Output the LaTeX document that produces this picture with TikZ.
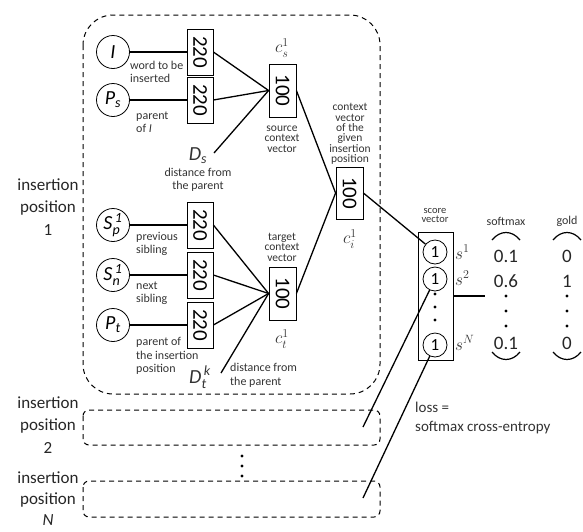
\documentclass[tikz,border=0pt]{standalone}
\usepackage{amsmath}
\usepackage{graphicx}
\usepackage{fontspec}
\setmainfont{Carlito}
\usetikzlibrary{positioning}

\tikzset{
  word/.style={draw, circle, minimum size=33pt, inner sep=0pt, line width=0.8pt, font=\fontsize{20}{20}\selectfont\itshape},
  vecbox/.style={draw, rectangle, minimum width=26pt, minimum height=46pt, inner sep=0pt, line width=0.8pt, font=\fontsize{21}{21}\selectfont},
  ctxbox/.style={vecbox, minimum width=27pt, minimum height=53pt},
  unit/.style={draw, circle, minimum size=24pt, inner sep=0pt, line width=0.8pt, font=\fontsize{17}{17}\selectfont},
  note/.style={text=black!80, font=\fontsize{12}{13.5}\selectfont, align=left, inner sep=0pt},
  tight/.style={text=black!80, font=\fontsize{11.5}{10.4}\selectfont, align=center, inner sep=0pt},
  posn/.style={text=black!85, font=\fontsize{17}{22.5}\selectfont, align=center, inner sep=0pt},
  sym/.style={text=black!80, font=\fontsize{20}{20}\selectfont, inner sep=0pt},
  val/.style={text=black!85, font=\fontsize{19}{19}\selectfont, inner sep=0pt},
  group/.style={dashed, dash pattern=on 5pt off 4pt, line width=1pt},
  link/.style={line width=1.3pt},
}

\begin{document}
\begin{tikzpicture}[x=1pt, y=-1pt]
	\useasboundingbox (0,0) rectangle (583,531);
	% insertion position boxes
	\draw[group, rounded corners=30pt] (83,15) rectangle (380,394);
	\draw[group, rounded corners=6pt] (83,410) rectangle (380,445);
	\draw[group, rounded corners=6pt] (83,481) rectangle (380,517);
	\foreach \y in {456,466,476} \fill (242,\y) circle (1.6);
	\node[posn] (pos1) at (48,207) {insertion\\position\\1};
	\node[posn] (pos2) at (48,425) {insertion\\position\\2};
	\node[posn, font=\fontsize{17}{21}\selectfont] (posN) at (48,499) {insertion\\position\\\textit{N}};
	% source side
	\node[word] (I) at (113,52) {I};
	\node[word] (Ps) at (113,100) {P\textsubscript{s}};
	\node[vecbox] (b1) at (200,52) {\rotatebox{-90}{220}};
	\node[vecbox] (b2) at (200,100) {\rotatebox{-90}{220}};
	\node[note, anchor=west] (wI) at (130,72) {word to be\\inserted};
	\node[note, anchor=west] (wPs) at (136,122) {parent\\of \textit{I}};
	\node[ctxbox] (src) at (282.5,90.5) {\rotatebox{-90}{100}};
	\node[sym, font=\fontsize{18}{18}\selectfont] (cs) at (282,48) {$c_s^1$};
	\node[tight] (srclab) at (282,139) {source\\context\\vector};
	\node[sym] (Ds) at (198,156) {$\textit{D}_{\textit{s}}$};
	\coordinate (ds) at (214,153);
	\node[tight, font=\fontsize{12}{13}\selectfont] (dslab) at (198,180) {distance from\\the parent};
	\draw[link] (I) -- (b1);
	\draw[link] (Ps) -- (b2);
	\draw[link] (b1.east) -- (src.west);
	\draw[link] (b2.east) -- (src.west);
	\draw[link] (ds) -- (src.west);
	% target side
	\node[word] (Sp) at (113,225) {$\textit{S}_{\textit{p}}^{\,\textit{1}}$};
	\node[word] (Sn) at (113,275) {$\textit{S}_{\textit{n}}^{\,\textit{1}}$};
	\node[word] (Pt) at (113,325) {P\textsubscript{t}};
	\node[vecbox] (b3) at (200,225) {\rotatebox{-90}{220}};
	\node[vecbox] (b4) at (200,275) {\rotatebox{-90}{220}};
	\node[vecbox] (b5) at (200,325) {\rotatebox{-90}{220}};
	\node[note, anchor=west] (wSp) at (136,244) {previous\\sibling};
	\node[note, anchor=west] (wSn) at (136,293) {next\\sibling};
	\node[note, anchor=west] (wPt) at (136,356) {parent of\\the insertion\\position};
	\node[ctxbox] (tgt) at (282.5,293.5) {\rotatebox{-90}{100}};
	\node[tight] (tgtlab) at (282,247) {target\\context\\vector};
	\node[sym, font=\fontsize{18}{18}\selectfont] (ct) at (282,339) {$c_t^1$};
	\node[sym] (Dt) at (200,377) {$\textit{D}_{\textit{t}}^{\,\textit{k}}$};
	\coordinate (dt) at (221,373);
	\node[note, anchor=west, font=\fontsize{12}{14}\selectfont] (dtlab) at (230,375) {distance from\\the parent};
	\draw[link] (Sp) -- (b3);
	\draw[link] (Sn) -- (b4);
	\draw[link] (Pt) -- (b5);
	\draw[link] (b3.east) -- (tgt.west);
	\draw[link] (b4.east) -- (tgt.west);
	\draw[link] (b5.east) -- (tgt.west);
	\draw[link] (dt) -- (tgt.west);
	% context vector of the position
	\node[ctxbox, minimum height=52pt] (ci) at (349.5,193) {\rotatebox{-90}{100}};
	\node[tight] (cilab) at (350,134) {context\\vector\\of the\\given\\insertion\\position};
	\node[sym, font=\fontsize{18}{18}\selectfont] (cil) at (350,239) {$c_i^1$};
	\draw[link] (src.east) -- (ci.west);
	\draw[link] (tgt.east) -- (ci.west);
	% score vector
	\node[draw, line width=0.8pt, minimum width=35pt, minimum height=128pt] (score) at (435.5,296) {};
	\node[tight, font=\fontsize{10.5}{9}\selectfont] (scorelab) at (435,215) {score\\vector};
	\node[unit] (s1) at (435,252) {1};
	\node[unit] (s2) at (435,279) {1};
	\node[unit] (sN) at (435,345) {1};
	\foreach \y in {294,307,320} \fill (435,\y) circle (1.6);
	\node[sym, anchor=west, font=\fontsize{18}{18}\selectfont] (ls1) at (455,252) {$s^1$};
	\node[sym, anchor=west, font=\fontsize{18}{18}\selectfont] (ls2) at (455,278) {$s^2$};
	\node[sym, anchor=west, font=\fontsize{18}{18}\selectfont] (lsN) at (455,343) {$s^N$};
	\draw[link] (ci.east) -- (s1);
	\coordinate (p2) at (363,427);
	\coordinate (pN) at (363,498);
	\draw[link] (p2) -- (s2);
	\draw[link] (pN) -- (sN);
	\coordinate (out) at (485,296);
	\draw[link] (score.east) -- (out);
	% softmax and gold
	\node[note] (smlab) at (506,221) {softmax};
	\node[note] (gdlab) at (567,221) {gold};
	\node[val] (v1) at (506,256) {0.1};
	\node[val] (v2) at (506,281) {0.6};
	\node[val] (vN) at (506,343) {0.1};
	\node[val] (g1) at (567,256) {0};
	\node[val] (g2) at (567,281) {1};
	\node[val] (gN) at (567,343) {0};
	\foreach \x in {506,567} {
		\foreach \y in {296,311,326} \fill (\x,\y) circle (1.6);
		\draw[line width=1.2pt] (\x-14,240) .. controls (\x-6,230) and (\x+6,230) .. (\x+14,240);
		\draw[line width=1.2pt] (\x-14,352) .. controls (\x-6,362) and (\x+6,362) .. (\x+14,352);
	}
	\node[note, font=\fontsize{15}{19}\selectfont] (loss) at (415,418) [anchor=west] {loss =\\softmax cross-entropy};
\end{tikzpicture}
\end{document}
